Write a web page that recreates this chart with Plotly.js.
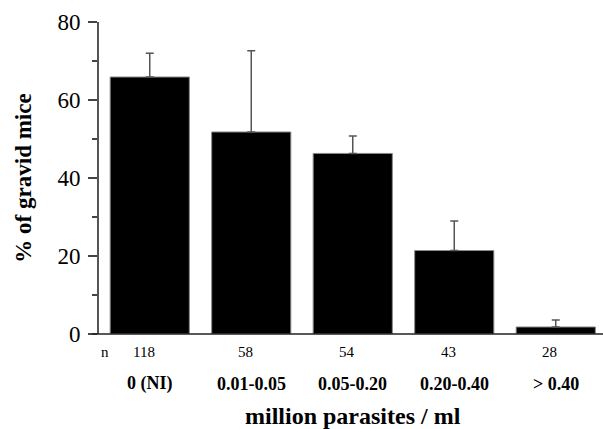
<!DOCTYPE html>
<html>
<head>
<meta charset="utf-8">
<script src="https://cdn.plot.ly/plotly-3.0.1.min.js"></script>
<style>html,body{margin:0;padding:0;background:#fff;}#chart{width:603px;height:429px;}</style>
</head>
<body>
<div id="chart"></div>
<script>
// Data
var categories = ["0 (NI)", "0.01-0.05", "0.05-0.20", "0.20-0.40", "> 0.40"];
var counts = ["118", "58", "54", "43", "28"];
var gravidPct = [65.9, 51.8, 46.3, 21.4, 1.8];
var errUp = [6.1, 20.8, 4.5, 7.6, 1.8];
var yTickVals = [0, 20, 40, 60, 80];

var xPos = categories.map(function (c, i) { return i; });
var serif = "Liberation Serif";

var trace = {
  type: "bar",
  x: xPos,
  y: gravidPct,
  width: 0.78,
  marker: { color: "#000", line: { color: "#8a8a8a", width: 1 } },
  error_y: {
    type: "data", symmetric: false,
    array: errUp,
    arrayminus: errUp.map(function () { return 0; }),
    color: "#555", thickness: 1.5, width: 4
  },
  hoverinfo: "skip"
};

var annotations = [];
counts.forEach(function (c, i) {
  annotations.push({
    x: xPos[i], xref: "x", y: -0.058, yref: "paper", yanchor: "middle",
    text: c, showarrow: false, xshift: -6,
    font: { family: serif, size: 15, color: "#000" }
  });
  annotations.push({
    x: xPos[i], xref: "x", y: -0.16, yref: "paper", yanchor: "middle",
    text: "<b>" + categories[i] + "</b>", showarrow: false,
    font: { family: serif, size: 18, color: "#000" }
  });
});
annotations.push({
  x: -0.5, xref: "x", y: -0.058, yref: "paper", yanchor: "middle", xanchor: "left",
  text: "n", showarrow: false, xshift: 0,
  font: { family: serif, size: 15, color: "#000" }
});
// x-axis title
annotations.push({
  x: 0.508, xref: "paper", y: -0.262, yref: "paper", yanchor: "middle", xanchor: "center",
  text: "<b>million parasites / ml</b>", showarrow: false,
  font: { family: serif, size: 24, color: "#000" }
});

var layout = {
  width: 603, height: 429,
  margin: { l: 99, r: 4, t: 22, b: 95 },
  paper_bgcolor: "#fff", plot_bgcolor: "#fff",
  showlegend: false,
  font: { family: serif, color: "#000" },
  xaxis: {
    type: "linear",
    range: [-0.5, 4.426],
    showticklabels: false, ticks: "", showgrid: false, zeroline: false, showline: false
  },
  yaxis: {
    range: [0, 80],
    tickvals: yTickVals,
    ticktext: yTickVals.map(String),
    ticks: "outside", ticklen: 9, tickwidth: 1.5, tickcolor: "#444",
    minor: { dtick: 10, ticks: "outside", ticklen: 5, tickwidth: 1.5, tickcolor: "#444" },
    showline: true, linecolor: "#555", linewidth: 2,
    showgrid: false, zeroline: false,
    tickfont: { family: serif, size: 23, color: "#000" },
    ticklabelstandoff: 3,
    title: { text: "<b>% of gravid mice</b>", standoff: 19,
      font: { family: serif, size: 23, color: "#000" } }
  },
  shapes: [{
    type: "line", xref: "paper", yref: "paper",
    x0: -0.014, x1: 1.008, y0: 0, y1: 0,
    line: { color: "#222", width: 1.5 }
  }],
  annotations: annotations
};

Plotly.newPlot("chart", [trace], layout, { staticPlot: true, displayModeBar: false });
</script>
</body>
</html>
